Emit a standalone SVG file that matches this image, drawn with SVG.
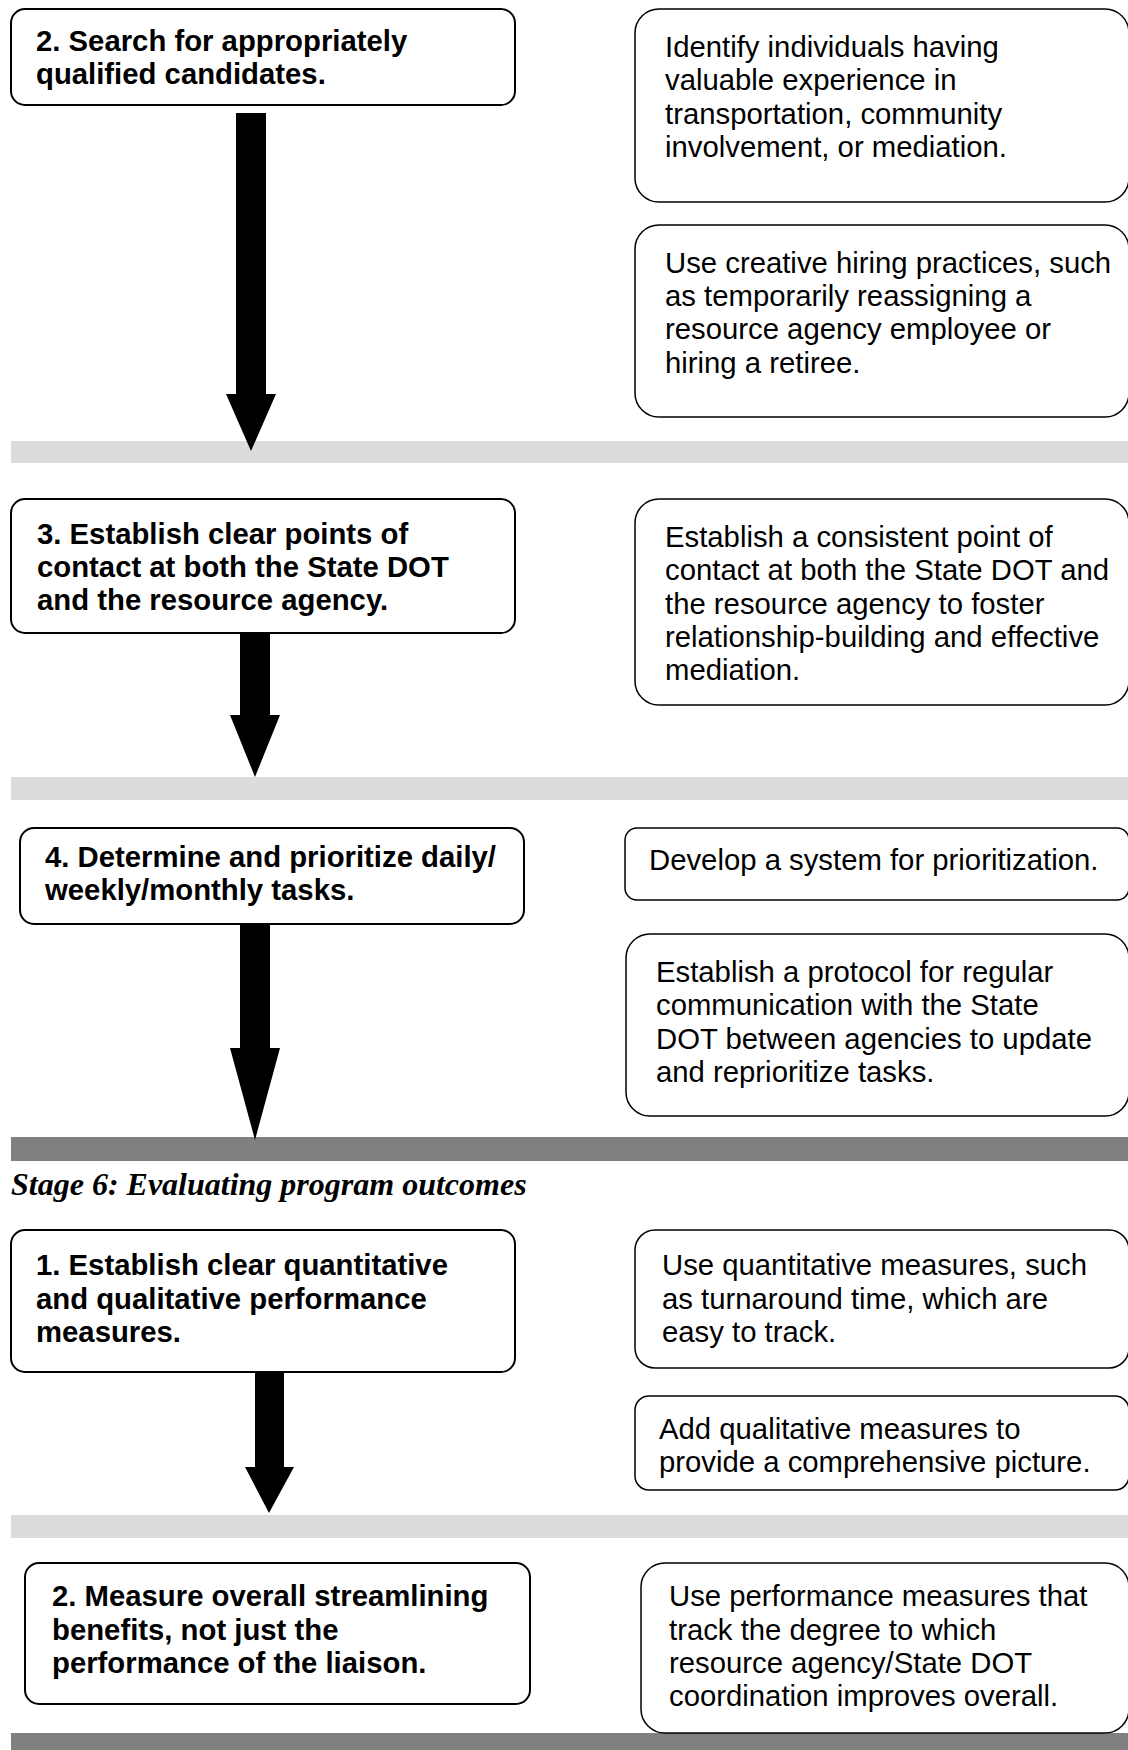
<svg xmlns="http://www.w3.org/2000/svg" width="1128" height="1750" viewBox="0 0 1128 1750">
<style>
.bg{fill:#ffffff}
.lb{fill:#ffffff;stroke:#000000;stroke-width:2}
.rb{fill:#ffffff;stroke:#000000;stroke-width:1.5}
.band-l{fill:#dcdcdc}
.band-d{fill:#808080}
.arrow{fill:#000000}
.tb{font-family:"Liberation Sans",Arial,sans-serif;font-weight:bold;font-size:29.3px;fill:#000000}
.tr{font-family:"Liberation Sans",Arial,sans-serif;font-size:29.3px;fill:#000000}
.title{font-family:"Liberation Serif","Times New Roman",serif;font-weight:bold;font-style:italic;font-size:32px;fill:#000000}
</style>
<rect class="bg" x="0" y="0" width="1128" height="1750"/>
<g id="bands">
<rect class="band-l" x="11" y="441" width="1117" height="22"/>
<rect class="band-l" x="11" y="777" width="1117" height="23"/>
<rect class="band-d" x="11" y="1137" width="1117" height="24"/>
<rect class="band-l" x="11" y="1515" width="1117" height="23"/>
<rect class="band-d" x="11" y="1733" width="1117" height="17"/>
</g>
<g id="connectors">
<polygon class="arrow" points="236,113 266,113 266,394 276,394 251,451 226,394 236,394"/>
<polygon class="arrow" points="240,633 270,633 270,715 280,715 255,777 230,715 240,715"/>
<polygon class="arrow" points="240,924 270,924 270,1048 280,1048 255,1140 230,1048 240,1048"/>
<polygon class="arrow" points="255,1372 284,1372 284,1467 294,1467 269,1513 245,1467 255,1467"/>
</g>
<g id="step2-search">
<rect class="lb" x="11" y="9" width="504" height="96" rx="14"/>
<text class="tb"><tspan x="36" y="51">2. Search for appropriately</tspan><tspan x="36" y="84">qualified candidates.</tspan></text>
</g>
<g id="tip-identify">
<rect class="rb" x="635" y="9" width="494" height="193" rx="24"/>
<text class="tr"><tspan x="665" y="57">Identify individuals having</tspan><tspan x="665" y="90">valuable experience in</tspan><tspan x="665" y="124">transportation, community</tspan><tspan x="665" y="157">involvement, or mediation.</tspan></text>
</g>
<g id="tip-hiring">
<rect class="rb" x="635" y="225" width="494" height="192" rx="24"/>
<text class="tr"><tspan x="665" y="273">Use creative hiring practices, such</tspan><tspan x="665" y="306">as temporarily reassigning a</tspan><tspan x="665" y="339">resource agency employee or</tspan><tspan x="665" y="373">hiring a retiree.</tspan></text>
</g>
<g id="step3-contact">
<rect class="lb" x="11" y="499" width="504" height="134" rx="14"/>
<text class="tb"><tspan x="37" y="544">3. Establish clear points of</tspan><tspan x="37" y="577">contact at both the State DOT</tspan><tspan x="37" y="610">and the resource agency.</tspan></text>
</g>
<g id="tip-contact">
<rect class="rb" x="635" y="499" width="494" height="206" rx="24"/>
<text class="tr"><tspan x="665" y="547">Establish a consistent point of</tspan><tspan x="665" y="580">contact at both the State DOT and</tspan><tspan x="665" y="614">the resource agency to foster</tspan><tspan x="665" y="647">relationship-building and effective</tspan><tspan x="665" y="680">mediation.</tspan></text>
</g>
<g id="step4-tasks">
<rect class="lb" x="20" y="828" width="504" height="96" rx="14"/>
<text class="tb"><tspan x="45" y="867">4. Determine and prioritize daily/</tspan><tspan x="45" y="900">weekly/monthly tasks.</tspan></text>
</g>
<g id="tip-system">
<rect class="rb" x="625" y="828" width="504" height="72" rx="12"/>
<text class="tr"><tspan x="649" y="870">Develop a system for prioritization.</tspan></text>
</g>
<g id="tip-protocol">
<rect class="rb" x="626" y="934" width="503" height="182" rx="24"/>
<text class="tr"><tspan x="656" y="982">Establish a protocol for regular</tspan><tspan x="656" y="1015">communication with the State</tspan><tspan x="656" y="1049">DOT between agencies to update</tspan><tspan x="656" y="1082">and reprioritize tasks.</tspan></text>
</g>
<g id="stage6-title">
<text class="title" x="11" y="1195">Stage 6: Evaluating program outcomes</text>
</g>
<g id="s6-step1-measures">
<rect class="lb" x="11" y="1230" width="504" height="142" rx="14"/>
<text class="tb"><tspan x="36" y="1275">1. Establish clear quantitative</tspan><tspan x="36" y="1309">and qualitative performance</tspan><tspan x="36" y="1342">measures.</tspan></text>
</g>
<g id="tip-quantitative">
<rect class="rb" x="635" y="1230" width="494" height="138" rx="20"/>
<text class="tr"><tspan x="662" y="1275">Use quantitative measures, such</tspan><tspan x="662" y="1309">as turnaround time, which are</tspan><tspan x="662" y="1342">easy to track.</tspan></text>
</g>
<g id="tip-qualitative">
<rect class="rb" x="635" y="1396" width="494" height="94" rx="14"/>
<text class="tr"><tspan x="659" y="1439">Add qualitative measures to</tspan><tspan x="659" y="1472">provide a comprehensive picture.</tspan></text>
</g>
<g id="s6-step2-benefits">
<rect class="lb" x="25" y="1563" width="505" height="141" rx="14"/>
<text class="tb"><tspan x="52" y="1606">2. Measure overall streamlining</tspan><tspan x="52" y="1640">benefits, not just the</tspan><tspan x="52" y="1673">performance of the liaison.</tspan></text>
</g>
<g id="tip-coordination">
<rect class="rb" x="641" y="1563" width="488" height="170" rx="24"/>
<text class="tr"><tspan x="669" y="1606">Use performance measures that</tspan><tspan x="669" y="1640">track the degree to which</tspan><tspan x="669" y="1673">resource agency/State DOT</tspan><tspan x="669" y="1706">coordination improves overall.</tspan></text>
</g>
</svg>
